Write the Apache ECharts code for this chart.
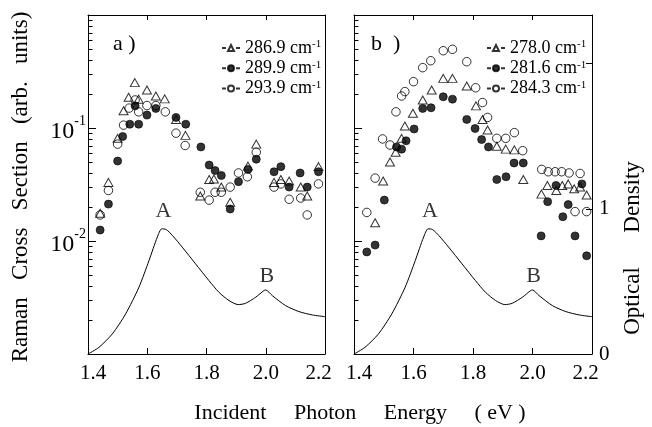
<!DOCTYPE html>
<html><head><meta charset="utf-8">
<script src="https://cdn.jsdelivr.net/npm/echarts@6/dist/echarts.min.js"></script>
<style>html,body{margin:0;padding:0;background:#fff}#c{width:652px;height:427px}</style>
</head><body><div id="c"></div>
<script>
// ---- axis settings ----
const xMin = 1.4, xMax = 2.2, xStep = 0.2;
const yLogMin = 0.001, yLogMax = 1;
const odMin = 0, odMax = 2.334, odStep = 1;
const logMinorTicks = [0.002,0.003,0.004,0.005,0.006,0.007,0.008,0.009,
  0.02,0.03,0.04,0.05,0.06,0.07,0.08,0.09,0.2,0.3,0.4,0.5,0.6,0.7,0.8,0.9];

// ---- optical density curve (both panels) ----
const odEnergy = [1.400,1.437,1.482,1.527,1.572,1.606,1.634,1.649,1.664,1.685,1.718,1.763,1.808,1.842,1.876,1.907,1.932,1.966,1.994,2.000,2.022,2.067,2.112,2.157,2.200];
const odValue  = [0.000,0.046,0.138,0.276,0.460,0.644,0.805,0.862,0.857,0.816,0.736,0.621,0.506,0.425,0.368,0.340,0.349,0.391,0.437,0.441,0.402,0.333,0.292,0.269,0.257];
const peakNames = ['A','B'];
const peakEnergy = [1.655, 2.004];
const peakOD = [0.98, 0.535];

// ---- panel a ----
const leftNames = ['286.9','289.9','293.9'];
const left286 = [[1.441,0.0176],[1.469,0.033],[1.500,0.081],[1.520,0.142],[1.537,0.187],[1.558,0.252],[1.571,0.180],[1.599,0.217],[1.629,0.192],[1.659,0.181],[1.697,0.119],[1.729,0.086],[1.779,0.025],[1.809,0.035],[1.825,0.0354],[1.850,0.030],[1.880,0.022],[1.940,0.046],[1.968,0.072],[2.028,0.033],[2.051,0.035],[2.079,0.034],[2.118,0.030],[2.140,0.025],[2.178,0.0455]];
const left289 = [[1.441,0.0125],[1.469,0.0212],[1.500,0.051],[1.517,0.084],[1.541,0.108],[1.559,0.157],[1.571,0.108],[1.599,0.130],[1.629,0.149],[1.697,0.124],[1.730,0.108],[1.781,0.068],[1.809,0.047],[1.829,0.042],[1.850,0.038],[1.880,0.0192],[1.908,0.0335],[1.940,0.043],[1.968,0.053],[2.028,0.041],[2.051,0.0455],[2.079,0.030],[2.116,0.040],[2.140,0.030],[2.178,0.041]];
const left293 = [[1.441,0.017],[1.469,0.028],[1.500,0.072],[1.520,0.106],[1.539,0.150],[1.559,0.177],[1.571,0.139],[1.599,0.158],[1.629,0.158],[1.661,0.139],[1.697,0.090],[1.728,0.070],[1.779,0.027],[1.809,0.023],[1.829,0.027],[1.850,0.027],[1.880,0.030],[1.908,0.040],[1.938,0.037],[1.968,0.061],[2.028,0.030],[2.051,0.032],[2.079,0.0234],[2.118,0.024],[2.140,0.017],[2.178,0.032]];

// ---- panel b ----
const rightNames = ['278.0','281.6','284.3'];
const right278 = [[1.471,0.0145],[1.498,0.034],[1.521,0.050],[1.540,0.061],[1.560,0.081],[1.571,0.104],[1.598,0.135],[1.631,0.177],[1.661,0.217],[1.700,0.275],[1.731,0.275],[1.779,0.235],[1.810,0.157],[1.832,0.119],[1.849,0.096],[1.880,0.069],[1.910,0.065],[1.939,0.064],[1.969,0.035],[2.030,0.026],[2.050,0.031],[2.080,0.028],[2.100,0.031],[2.120,0.032],[2.140,0.029],[2.160,0.030],[2.182,0.0255]];
const right281 = [[1.443,0.0080],[1.471,0.0092],[1.502,0.023],[1.543,0.068],[1.560,0.065],[1.575,0.077],[1.602,0.098],[1.631,0.149],[1.659,0.151],[1.700,0.189],[1.731,0.180],[1.779,0.119],[1.807,0.099],[1.829,0.079],[1.852,0.068],[1.880,0.035],[1.911,0.037],[1.938,0.049],[1.969,0.049],[2.029,0.0111],[2.051,0.0223],[2.079,0.031],[2.102,0.0164],[2.120,0.021],[2.143,0.0111],[2.166,0.032],[2.182,0.0074]];
const right284 = [[1.443,0.0179],[1.471,0.036],[1.496,0.080],[1.521,0.0707],[1.541,0.139],[1.560,0.192],[1.571,0.210],[1.600,0.257],[1.631,0.342],[1.658,0.394],[1.700,0.483],[1.731,0.497],[1.779,0.386],[1.809,0.227],[1.832,0.168],[1.849,0.124],[1.880,0.081],[1.910,0.081],[1.939,0.091],[1.967,0.063],[2.031,0.043],[2.053,0.041],[2.076,0.041],[2.098,0.041],[2.123,0.040],[2.143,0.0182],[2.160,0.0396],[2.182,0.0182]];

// ---- build chart ----
const FONT = 'Liberation Serif';
const INK = '#000';
const chart = echarts.init(document.getElementById('c'), null, {renderer: 'canvas'});

const odData = odEnergy.map((e, i) => [e, odValue[i]]);
const peakData = peakNames.map((n, i) => ({name: n, value: [peakEnergy[i], peakOD[i]]}));
const minorData = logMinorTicks.map(v => [xMin, v]);

const iconTri = 'path://M0,4H4M6,7L9,1L12,7ZM14,4H18';
const iconCirc = 'path://M0,4H4M6,4A3,3,0,1,1,12,4A3,3,0,1,1,6,4ZM14,4H18';
const icons = [iconTri, iconCirc, iconCirc];

const styles = [
  {symbol: 'triangle', symbolSize: [9, 8], itemStyle: {color: 'rgba(255,255,255,0)', borderColor: INK, borderWidth: 1}},
  {symbol: 'circle', symbolSize: 8, itemStyle: {color: INK, borderColor: INK, borderWidth: 0.8}},
  {symbol: 'circle', symbolSize: 8.5, itemStyle: {color: 'rgba(255,255,255,0)', borderColor: INK, borderWidth: 1}}
];

function fmtX(v) {
  const s = v.toFixed(1);
  if (Math.abs(v - xMin) < 1e-6) return '{lo|' + s + '}';
  if (Math.abs(v - xMax) < 1e-6) return '{hi|' + s + '}';
  return '{n|' + s + '}';
}
const xLabelRich = {
  n: {fontFamily: FONT, fontSize: 21, color: INK},
  lo: {fontFamily: FONT, fontSize: 21, color: INK, padding: [0, 0, 0, 10]},
  hi: {fontFamily: FONT, fontSize: 21, color: INK, padding: [0, 13, 0, 0]}
};

function xAxes(gi) {
  return [
    {gridIndex: gi, type: 'value', position: 'bottom', min: xMin, max: xMax, interval: xStep,
     axisLine: {show: true, lineStyle: {color: INK, width: 1}},
     axisTick: {show: true, inside: true, length: 6, lineStyle: {color: INK}},
     axisLabel: {show: true, margin: 9, formatter: fmtX, rich: xLabelRich, showMinLabel: true, showMaxLabel: true},
     splitLine: {show: false}},
    {gridIndex: gi, type: 'value', position: 'top', min: xMin, max: xMax, interval: xStep,
     axisLine: {show: true, lineStyle: {color: INK, width: 1}},
     axisTick: {show: true, inside: true, length: 5, lineStyle: {color: INK}},
     axisLabel: {show: false}, splitLine: {show: false}}
  ];
}

function fmtLog(v) {
  const e = Math.round(Math.log10(v));
  if (e === -1 || e === -2) return '{b|10}{s|' + e + '}';
  return '';
}

const yAxes = [
  {gridIndex: 0, type: 'log', logBase: 10, min: yLogMin, max: yLogMax, position: 'left',
   axisLine: {show: true, lineStyle: {color: INK, width: 1}},
   axisTick: {show: true, inside: true, length: 8, lineStyle: {color: INK}},
   axisLabel: {show: true, margin: 2, formatter: fmtLog,
     rich: {b: {fontFamily: FONT, fontSize: 24, color: INK, padding: [8, 0, 0, 0]},
            s: {fontFamily: FONT, fontSize: 14, color: INK, verticalAlign: 'top', padding: [2, 0, 0, 0]}}},
   splitLine: {show: false}, minorTick: {show: false}},
  {gridIndex: 0, type: 'value', min: odMin, max: odMax, interval: odStep, position: 'right',
   axisLine: {show: true, lineStyle: {color: INK, width: 1}},
   axisTick: {show: false}, axisLabel: {show: false}, splitLine: {show: false}},
  {gridIndex: 1, type: 'log', logBase: 10, min: yLogMin, max: yLogMax, position: 'left',
   axisLine: {show: true, lineStyle: {color: INK, width: 1}},
   axisTick: {show: true, inside: true, length: 8, lineStyle: {color: INK}},
   axisLabel: {show: false}, splitLine: {show: false}},
  {gridIndex: 1, type: 'value', min: odMin, max: odMax, interval: odStep, position: 'right',
   axisLine: {show: true, lineStyle: {color: INK, width: 1}},
   axisTick: {show: true, inside: true, length: 6, lineStyle: {color: INK}},
   axisLabel: {show: true, margin: 7, fontFamily: FONT, fontSize: 21, color: INK,
     formatter: v => (v === 0 || v === 1) ? String(v) : ''},
   splitLine: {show: false}}
];

function panelSeries(gi, names, sets) {
  const xi = gi * 2, yLog = gi * 2, yOD = gi * 2 + 1;
  const out = [];
  out.push({type: 'line', xAxisIndex: xi, yAxisIndex: yOD, data: odData, showSymbol: false,
    smooth: 0.25, lineStyle: {color: INK, width: 1}, silent: true, z: 2});
  out.push({type: 'scatter', xAxisIndex: xi, yAxisIndex: yOD, data: peakData, symbol: 'circle', symbolSize: 2,
    itemStyle: {color: 'rgba(0,0,0,0)'}, silent: true, z: 3,
    label: {show: true, position: 'inside', formatter: p => p.name, fontFamily: FONT, fontSize: 22, color: INK}});
  out.push({type: 'custom', xAxisIndex: xi, yAxisIndex: yLog, data: minorData, clip: false, silent: true,
    renderItem: (params, api) => {
      const p = api.coord([api.value(0), api.value(1)]);
      const y = Math.round(p[1]) + 0.5;
      return {type: 'line', shape: {x1: p[0], y1: y, x2: p[0] + 4.5, y2: y}, style: {stroke: INK, lineWidth: 1}};
    }});
  sets.forEach((d, i) => {
    out.push(Object.assign({type: 'scatter', name: names[i], xAxisIndex: xi, yAxisIndex: yLog,
      data: d, z: 5, silent: true}, JSON.parse(JSON.stringify(styles[i]))));
  });
  return out;
}

function legendFor(names, left) {
  return {left: left, top: 34, orient: 'vertical', itemGap: 2.3, itemWidth: 18, itemHeight: 6,
    selectedMode: false, data: names.map((n, i) => ({name: n, icon: icons[i]})),
    formatter: n => n + ' cm{sup|-1}',
    textStyle: {fontFamily: FONT, fontSize: 18, color: INK, lineHeight: 18,
      rich: {sup: {fontFamily: FONT, fontSize: 11, color: INK, verticalAlign: 'top'}}}};
}

const option = {
  backgroundColor: '#fff',
  animation: false,
  grid: [
    {left: 88, top: 15, width: 237, height: 339, containLabel: false, outerBoundsMode: 'none'},
    {left: 354, top: 15, width: 238, height: 339, containLabel: false, outerBoundsMode: 'none'}
  ],
  xAxis: [...xAxes(0), ...xAxes(1)],
  yAxis: yAxes,
  legend: [legendFor(leftNames, 216), legendFor(rightNames, 481)],
  series: [
    ...panelSeries(0, leftNames, [left286, left289, left293]),
    ...panelSeries(1, rightNames, [right278, right281, right284])
  ],
  graphic: [
    {type: 'text', x: 113, y: 44, style: {text: 'a )', fontFamily: FONT, fontSize: 22, fill: INK, align: 'left', verticalAlign: 'middle'}},
    {type: 'text', x: 371, y: 44, style: {text: 'b  )', fontFamily: FONT, fontSize: 22, fill: INK, align: 'left', verticalAlign: 'middle'}},
    {type: 'text', x: 21, y: 187, rotation: Math.PI / 2,
     style: {text: 'Raman   Cross   Section   (arb.   units)', fontFamily: FONT, fontSize: 23, fill: INK, align: 'center', verticalAlign: 'middle'}},
    {type: 'text', x: 633, y: 248, rotation: Math.PI / 2,
     style: {text: 'Optical      Density', fontFamily: FONT, fontSize: 23, fill: INK, align: 'center', verticalAlign: 'middle'}},
    {type: 'text', x: 360, y: 413,
     style: {text: 'Incident     Photon     Energy     ( eV )', fontFamily: FONT, fontSize: 22, fill: INK, align: 'center', verticalAlign: 'middle'}}
  ]
};
chart.setOption(option);
</script></body></html>
